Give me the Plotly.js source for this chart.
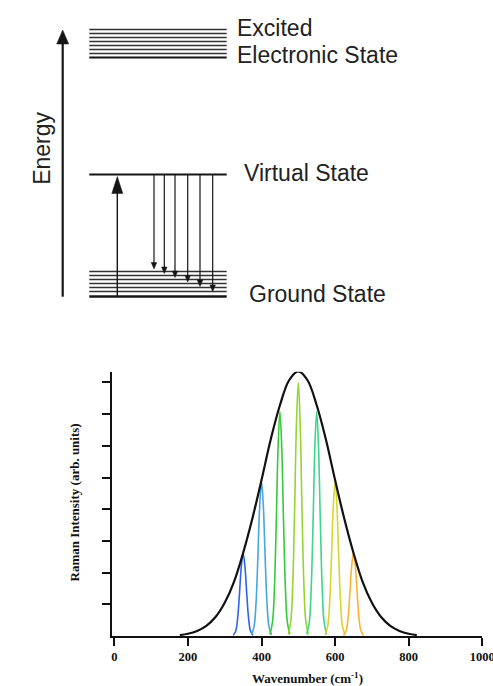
<!DOCTYPE html>
<html>
<head>
<meta charset="utf-8">
<script src="https://cdn.plot.ly/plotly-3.0.1.min.js"></script>
<style>html,body{margin:0;padding:0;background:#fff;}#chart{width:493px;height:686px;}</style>
</head>
<body>
<div id="chart"></div>
<script>
// ---------- Energy-level diagram data (arbitrary energy units) ----------
const levelSpan = [89.3, 226.7];                 // horizontal extent of the levels
const excitedLevels = [239, 243, 247, 251, 255, 259, 263, 267];
const virtualLevel = 122;
const groundLevels = [0, 5, 9, 13, 17, 21, 25];
const energyAxisX = 62.7;
const energyAxisTop = 266.5;
const excitationX = 117.3;
const excitationTip = 120;
const scatterX = [154, 164.3, 175, 187.7, 200, 212.7];
const scatterEnd = [27.5, 23, 19, 14.5, 10, 5];

const diagramLabels = ["Excited", "Electronic State", "Virtual State", "Ground State", "Energy"];

// ---------- Raman spectrum data ----------
const envelopeX = [178, 200, 225, 250, 275, 300, 325, 350, 375, 400, 425, 450, 475, 500,
                   525, 550, 575, 600, 625, 650, 675, 700, 725, 750, 775, 800, 822];
const envelopeY = [0.03, 0.07, 0.16, 0.32, 0.6, 1.05, 1.7, 2.62, 3.7, 4.92, 6.2, 7.28, 8.07, 8.35,
                   8.07, 7.28, 6.2, 4.92, 3.7, 2.62, 1.7, 1.05, 0.6, 0.32, 0.16, 0.07, 0.03];

const peakCenters = [350, 400, 450, 500, 550, 600, 650];
const peakOffsets = [-27, -20, -15, -10, -5, 0, 5, 10, 15, 20, 27];
const peak350 = [0.02, 0.16, 0.55, 1.31, 2.19, 2.61, 2.19, 1.31, 0.55, 0.16, 0.02];
const peak400 = [0.03, 0.31, 1.02, 2.44, 4.09, 4.87, 4.09, 2.44, 1.02, 0.31, 0.03];
const peak450 = [0.05, 0.45, 1.49, 3.54, 5.95, 7.08, 5.95, 3.54, 1.49, 0.45, 0.05];
const peak500 = [0.05, 0.50, 1.68, 4.00, 6.72, 8.00, 6.72, 4.00, 1.68, 0.50, 0.05];
const peak550 = [0.05, 0.45, 1.49, 3.54, 5.95, 7.08, 5.95, 3.54, 1.49, 0.45, 0.05];
const peak600 = [0.03, 0.31, 1.02, 2.44, 4.09, 4.87, 4.09, 2.44, 1.02, 0.31, 0.03];
const peak650 = [0.02, 0.17, 0.55, 1.32, 2.21, 2.63, 2.21, 1.32, 0.55, 0.17, 0.02];
const peakValues = [peak350, peak400, peak450, peak500, peak550, peak600, peak650];
const peakColors = ["#2f62f2", "#45a6e0", "#36c93a", "#96d432", "#3cd58c", "#d6d62c", "#ffb236"];

const xTickVals = [0, 200, 400, 600, 800, 1000];
const xTickText = ["0", "200", "400", "600", "800", "1000"];
const yTickVals = [1, 2, 3, 4, 5, 6, 7, 8];
const xTitle = "Wavenumber (cm<sup>-1</sup>)";
const yTitle = "Raman Intensity (arb. units)";

// ---------- build traces ----------
const traces = [];
const ink = "#151515";

function levelTrace(levels, width, color) {
  const x = [], y = [];
  levels.forEach(e => { x.push(levelSpan[0], levelSpan[1], null); y.push(e, e, null); });
  return {x, y, xaxis: "x2", yaxis: "y2", mode: "lines", type: "scatter",
          line: {color: color, width: width}, hoverinfo: "skip"};
}
traces.push(levelTrace(excitedLevels.slice(1), 1.3, "#333"));
traces.push(levelTrace([excitedLevels[0]], 2.2, ink));
traces.push(levelTrace(groundLevels.slice(1), 1.3, "#333"));
traces.push(levelTrace([groundLevels[0]], 2.4, ink));
traces.push(levelTrace([virtualLevel], 2.2, ink));

function arrow(x, from, to, lineW, headW, headL) {
  const dir = to > from ? 1 : -1;
  const base = to - dir * headL;
  traces.push({x: [x, x], y: [from, base + dir * 1], xaxis: "x2", yaxis: "y2",
               mode: "lines", line: {color: ink, width: lineW}, hoverinfo: "skip"});
  traces.push({x: [x - headW / 2, x + headW / 2, x, x - headW / 2],
               y: [base, base, to, base], xaxis: "x2", yaxis: "y2",
               mode: "lines", fill: "toself", fillcolor: ink,
               line: {color: ink, width: 0.5}, hoverinfo: "skip"});
}
arrow(energyAxisX, groundLevels[0] - 0.2, energyAxisTop, 2.2, 12, 14);
arrow(excitationX, groundLevels[0], excitationTip, 1.4, 11, 17);
scatterX.forEach((x, i) => arrow(x, virtualLevel, scatterEnd[i], 1.2, 5.5, 6.5));

// spectrum
peakCenters.forEach((c, i) => {
  traces.push({x: peakOffsets.map(o => c + o), y: peakValues[i], type: "scatter", mode: "lines",
               line: {color: peakColors[i], width: 1.6, shape: "spline", smoothing: 1},
               hoverinfo: "skip"});
});
traces.push({x: envelopeX, y: envelopeY, type: "scatter", mode: "lines",
             line: {color: "#111", width: 2.2, shape: "spline", smoothing: 1}, hoverinfo: "skip"});

// ---------- layout ----------
const W = 493, H = 686;
const sansFont = {family: "Liberation Sans, Arial, sans-serif", size: 23, color: "#222"};
const serifBold = {family: "Liberation Serif, Times New Roman, serif", size: 13, color: "#111", weight: "bold"};

const annotations = [
  {text: diagramLabels[0], x: 235, y: 269, xref: "x2", yref: "y2", xanchor: "left", yanchor: "middle", showarrow: false, font: sansFont},
  {text: diagramLabels[1], x: 235, y: 241.5, xref: "x2", yref: "y2", xanchor: "left", yanchor: "middle", showarrow: false, font: sansFont},
  {text: diagramLabels[2], x: 241.5, y: 123.5, xref: "x2", yref: "y2", xanchor: "left", yanchor: "middle", showarrow: false, font: sansFont},
  {text: diagramLabels[3], x: 247, y: 2.5, xref: "x2", yref: "y2", xanchor: "left", yanchor: "middle", showarrow: false, font: sansFont},
  {text: diagramLabels[4], x: 42.5, y: 148.2, xref: "x2", yref: "y2", xanchor: "center", yanchor: "middle", textangle: -90, showarrow: false, font: sansFont},
  {text: xTitle, x: 307.5 / W, y: (H - 677.5) / H, xref: "paper", yref: "paper", xanchor: "center", yanchor: "middle", showarrow: false, font: serifBold},
  {text: yTitle, x: 73.5 / W, y: (H - 503) / H, xref: "paper", yref: "paper", xanchor: "center", yanchor: "middle", textangle: -90, showarrow: false, font: serifBold}
];

const layout = {
  width: W, height: H,
  margin: {l: 0, r: 0, t: 0, b: 0, pad: 0},
  paper_bgcolor: "#fff", plot_bgcolor: "rgba(0,0,0,0)",
  showlegend: false,
  xaxis: {domain: [112 / W, 482.3 / W], range: [-6.3, 1000], showgrid: false, zeroline: false,
          showline: true, linecolor: "#111", linewidth: 2.2,
          ticks: "outside", ticklen: 8, tickwidth: 2, tickcolor: "#111",
          tickvals: xTickVals, ticktext: xTickText, ticklabeloverflow: "allow",
          tickfont: {family: "Liberation Serif, Times New Roman, serif", size: 12.5, color: "#111", weight: "bold"},
          fixedrange: true},
  yaxis: {domain: [(H - 636) / H, (H - 371.7) / H], range: [0, 8.34], showgrid: false, zeroline: false,
          showline: true, linecolor: "#111", linewidth: 2.2,
          ticks: "outside", ticklen: 8, tickwidth: 2, tickcolor: "#111",
          tickvals: yTickVals, showticklabels: false, fixedrange: true},
  xaxis2: {domain: [0, 1], range: [0, W], visible: false, anchor: "y2", fixedrange: true},
  yaxis2: {domain: [1 - 320 / H, 1], range: [-23.5, 296.5], visible: false, anchor: "x2", fixedrange: true},
  annotations: annotations
};

Plotly.newPlot("chart", traces, layout, {staticPlot: true, displayModeBar: false});
</script>
</body>
</html>
